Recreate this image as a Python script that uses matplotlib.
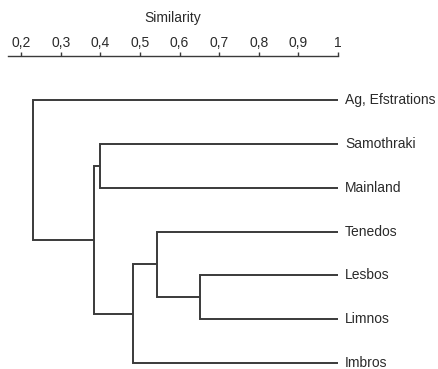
import matplotlib
matplotlib.use("Agg")
import matplotlib.pyplot as plt

plt.rcParams['font.family'] = ['Liberation Sans', 'DejaVu Sans']

# leaves, top to bottom
leaves = ["Ag, Efstrations", "Samothraki", "Mainland", "Tenedos", "Lesbos", "Limnos", "Imbros"]
# merges: (child a, child b, similarity); children are leaf names or merge indices
merges = [
    ("Lesbos", "Limnos", 0.652),
    ("Tenedos", 0, 0.543),
    (1, "Imbros", 0.483),
    ("Samothraki", "Mainland", 0.40),
    (3, 2, 0.384),
    ("Ag, Efstrations", 4, 0.23),
]
tick_vals = [0.2, 0.3, 0.4, 0.5, 0.6, 0.7, 0.8, 0.9, 1.0]
tick_labels = ["0,2", "0,3", "0,4", "0,5", "0,6", "0,7", "0,8", "0,9", "1"]

W, H = 438, 369
fig = plt.figure(figsize=(W / 100, H / 100), dpi=100)
top_px = 56
ax = fig.add_axes([0, 0, 1, (H - top_px) / H])

color = '#3a3a3a'
txt_color = '#2a2a2a'
lw = 1.4

pos = {}
for i, name in enumerate(leaves):
    pos[name] = (1.0, i)


def get(c):
    if isinstance(c, int):
        return pos[('m', c)]
    return pos[c]


for k, (a, b, s) in enumerate(merges):
    xa, ya = get(a)
    xb, yb = get(b)
    ax.plot([xa, s, s, xb], [ya, ya, yb, yb], color=color, lw=lw,
            solid_joinstyle='miter', solid_capstyle='butt')
    pos[('m', k)] = (s, (ya + yb) / 2)

for i, name in enumerate(leaves):
    ax.text(1.018, i, name, fontsize=10, va='center', ha='left', color=txt_color)

# pixel mapping: 0.2 -> x=21, 1.0 -> x=338; leaf 0 -> y=100, leaf 6 -> y=363
ppu = (338 - 21) / 0.8
ax.set_xlim(0.2 - 21 / ppu, 0.2 + (W - 21) / ppu)
ppl = (363 - 100) / 6
ax.set_ylim(6 + (H - 363) / ppl, (top_px - 100) / ppl)

for sp in ['left', 'right', 'bottom']:
    ax.spines[sp].set_visible(False)
ax.spines['top'].set_bounds(0.2 - 13 / ppu, 1.0)
ax.spines['top'].set_color(color)
ax.spines['top'].set_linewidth(1.0)
ax.set_yticks([])
ax.xaxis.tick_top()
ax.set_xticks(tick_vals)
ax.set_xticklabels(tick_labels)
ax.tick_params(axis='x', direction='out', length=3, width=1.0, color=color,
               labelsize=10, pad=1, labelcolor=txt_color)
ax.text(0.2 + (173 - 21) / ppu, -(100 - 18) / ppl, "Similarity", fontsize=10,
        ha='center', va='center', color=txt_color)

fig.savefig("out.png", dpi=100)
